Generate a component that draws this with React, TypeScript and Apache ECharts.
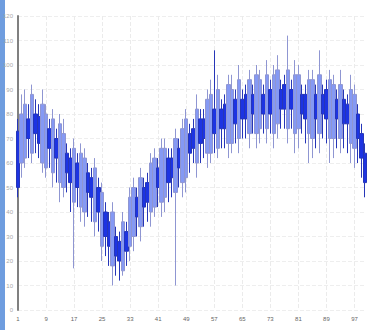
import React, { useEffect, useRef } from "react";
import * as echarts from "echarts";

const opens = [73,60,62,78,64,80,79,60,58,74,56,70,52,50,64,62,44,60,42,40,56,54,36,50,26,40,36,18,30,28,16,32,26,30,46,34,50,52,40,42,58,44,46,62,62,48,66,52,54,72,74,60,78,78,64,64,82,66,82,84,68,68,86,70,86,88,72,88,72,74,88,74,90,72,76,90,92,74,90,72,74,88,88,72,70,88,72,88,90,70,70,86,70,86,84,68,66,80,72,64];
const closes = [50,80,84,70,88,72,68,84,80,66,78,62,76,72,56,52,66,50,64,62,48,46,58,40,48,30,26,40,22,20,36,24,46,50,38,54,42,44,60,62,50,66,66,52,54,70,58,74,78,64,66,82,68,70,86,88,72,90,74,74,92,90,76,94,78,78,94,80,96,94,80,96,80,96,98,82,82,98,82,96,96,80,78,94,94,78,96,80,78,94,92,78,92,76,76,90,88,70,62,52];
const lows = [46,54,58,62,60,64,62,56,54,58,50,52,44,46,48,40,17,42,36,34,38,36,30,32,20,22,18,10,14,12,14,18,20,24,30,28,34,36,34,38,42,38,40,44,46,10,50,46,48,56,60,54,60,62,58,60,64,62,66,66,62,64,68,64,70,70,66,72,66,68,72,68,72,66,70,74,74,68,74,64,66,72,68,60,62,66,64,70,68,60,62,66,64,66,64,60,58,60,54,46];
const highs = [78,88,90,84,92,86,84,90,84,78,82,74,80,78,68,66,70,64,68,66,60,58,62,54,52,44,40,44,34,32,40,36,50,54,50,58,54,56,64,66,62,70,70,66,66,74,70,78,82,76,78,88,82,82,90,94,106,96,86,88,96,96,90,100,90,92,98,92,100,98,92,102,94,100,104,94,96,112,94,102,100,92,92,98,98,92,106,92,94,98,96,90,98,90,88,96,92,84,76,68];
const categories = opens.map((_, i) => String(i + 1));

export default function App() {
  const ref = useRef<HTMLDivElement>(null);
  useEffect(() => {
    document.body.style.margin = "0";
    const chart = echarts.init(ref.current!, null, { renderer: "svg" });
    const data = opens.map((o, i) => [o, closes[i], lows[i], highs[i]]);
    chart.setOption({
      animation: false,
      backgroundColor: "#ffffff",
      graphic: [
        { type: "rect", left: 0, top: 0, shape: { width: 5, height: 330 }, style: { fill: "#6f9ddf" } },
      ],
      grid: { left: 17, right: 4, top: 16, bottom: 20 },
      xAxis: {
        type: "category",
        data: categories,
        boundaryGap: false,
        axisLine: { show: false },
        axisTick: { show: false },
        axisLabel: { interval: 7, fontSize: 6, color: "#666", margin: 6 },
        splitLine: { show: true, interval: 7, lineStyle: { type: "dashed", color: "#ebebeb" } },
      },
      yAxis: {
        type: "value",
        min: 0,
        max: 120,
        interval: 10,
        axisLine: { show: true, lineStyle: { color: "#808080", width: 2 } },
        axisTick: { show: false },
        axisLabel: { fontSize: 6, color: "#aaa", margin: 5 },
        splitLine: { show: true, lineStyle: { type: "dashed", color: "#eeeeee" } },
      },
      series: [
        {
          type: "candlestick",
          data,
          barWidth: 4,
          itemStyle: {
            color: "#8599f4",
            color0: "#1d34e2",
            borderColor: "#8f96d2",
            borderColor0: "#2636b8",
            borderWidth: 1,
          },
        },
      ],
    });
    return () => chart.dispose();
  }, []);
  return <div ref={ref} style={{ width: 369, height: 330 }} />;
}
